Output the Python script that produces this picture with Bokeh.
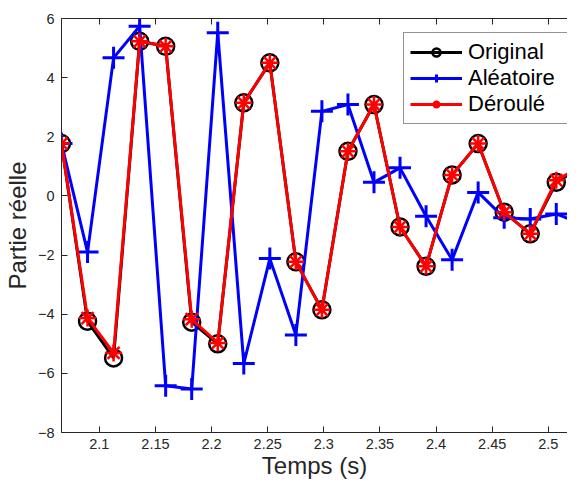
from bokeh.plotting import figure
from bokeh.models import Range1d, LinearAxis, FixedTicker, Legend, LegendItem
from bokeh.embed import file_html
from bokeh.resources import INLINE

# Data
temps = [2.0663, 2.0895, 2.1127, 2.1359, 2.1591, 2.1823, 2.2055, 2.2287, 2.2519, 2.2751,
         2.2983, 2.3215, 2.3447, 2.3679, 2.3911, 2.4143, 2.4375, 2.4607, 2.4839, 2.5071, 2.5303]
original = [1.77, -4.24, -5.48, 5.23, 5.06, -4.27, -5.00, 3.15, 4.50, -2.23,
            -3.85, 1.51, 3.09, -1.05, -2.38, 0.71, 1.77, -0.55, -1.28, 0.46, 1.00]
aleatoire = [1.77, -1.90, 4.67, 5.74, -6.42, -6.53, 5.52, -5.67, -2.12, -4.70,
             2.86, 3.09, 0.46, 0.95, -0.69, -2.16, 0.12, -0.74, -0.78, -0.61, -0.95]
deroule = [1.77, -4.13, -5.31, 5.23, 5.06, -4.17, -4.97, 3.15, 4.50, -2.23,
           -3.85, 1.51, 3.09, -1.05, -2.38, 0.71, 1.77, -0.55, -1.28, 0.53, 1.02]
x_ticks = [2.1, 2.15, 2.2, 2.25, 2.3, 2.35, 2.4, 2.45, 2.5]
y_ticks = [-8, -6, -4, -2, 0, 2, 4, 6]

FONT = "Liberation Sans"
AX = "#262626"

p = figure(width=567, height=482, output_backend="svg", toolbar_location=None,
           x_range=Range1d(2.0663, 2.5171), y_range=Range1d(-8, 6),
           x_axis_location=None, y_axis_location=None,
           min_border_left=54, min_border_right=0, min_border_top=18, min_border_bottom=50)
p.outline_line_color = None
p.grid.visible = False
p.background_fill_color = "white"
p.border_fill_color = "white"

xb = LinearAxis(axis_label="Temps (s)", ticker=FixedTicker(ticks=x_ticks))
yl = LinearAxis(axis_label="Partie réelle", ticker=FixedTicker(ticks=y_ticks))
for ax in (xb, yl):
    ax.major_tick_in = 6
    ax.major_tick_out = 0
    ax.minor_tick_in = 0
    ax.minor_tick_out = 0
    ax.axis_line_color = AX
    ax.major_tick_line_color = AX
    ax.major_label_text_color = AX
    ax.major_label_text_font = FONT
    ax.major_label_text_font_size = "14.5px"
    ax.axis_label_text_font = FONT
    ax.axis_label_text_font_size = "24px"
    ax.axis_label_text_font_style = "normal"
    ax.axis_label_text_color = AX
xb.major_label_standoff = 6
xb.axis_label_standoff = 0
yl.major_label_standoff = 7
yl.axis_label_standoff = 4
p.add_layout(xb, "below")
p.add_layout(yl, "left")

top = LinearAxis(ticker=FixedTicker(ticks=x_ticks), major_tick_in=6, major_tick_out=0,
                 minor_tick_in=0, minor_tick_out=0, axis_line_color=AX,
                 major_tick_line_color=AX, major_label_text_font_size="1px",
                 major_label_text_alpha=0, major_label_standoff=0)
p.add_layout(top, "above")

l1 = p.line(temps, original, line_color="black", line_width=3)
m1 = p.scatter(temps, original, marker="circle", size=17, line_color="black",
               fill_color=None, line_width=2.5)
l2 = p.line(temps, aleatoire, line_color="#0000ff", line_width=3)
m2 = p.scatter(temps, aleatoire, marker="cross", size=22, line_color="#0000ff", line_width=3)
l3 = p.line(temps, deroule, line_color="#ff0000", line_width=3)
m3 = p.scatter(temps, deroule, marker="asterisk", size=17, line_color="#ff0000", line_width=2.5)

legend = Legend(items=[
    LegendItem(label="Original", renderers=[l1, m1]),
    LegendItem(label="Aléatoire", renderers=[l2, m2]),
    LegendItem(label="Déroulé", renderers=[l3, m3]),
], location=(342, 308))
legend.label_text_font = FONT
legend.label_text_font_size = "22px"
legend.label_text_color = "black"
legend.padding = 6
legend.spacing = -3
legend.margin = 0
legend.glyph_width = 52
legend.glyph_height = 20
legend.label_standoff = 6
legend.label_width = 99
legend.label_height = 20
legend.border_line_color = AX
legend.border_line_width = 1
legend.background_fill_alpha = 1
p.add_layout(legend)

open("out.html", "w").write(file_html(p, INLINE))
